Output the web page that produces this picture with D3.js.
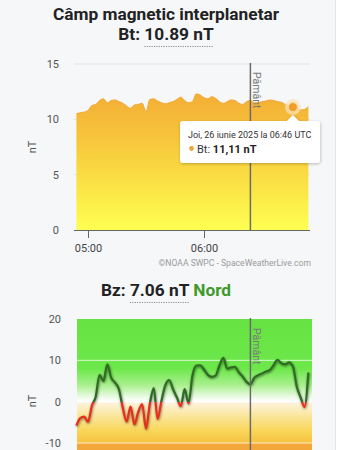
<!DOCTYPE html>
<html>
<head>
<meta charset="utf-8">
<script src="https://cdn.jsdelivr.net/npm/d3@7.9.0/dist/d3.min.js"></script>
<style>
  body { margin: 0; background: #fff; font-family: Roboto, "Noto Sans", sans-serif; }
  svg { display: block; }
</style>
</head>
<body>
<svg id="chart" width="351" height="450"></svg>
<script>
// minutes after 05:00 UTC, one sample every 2 minutes
const sampleMinutes = d3.range(-6, 115, 2);

const btValues = [
  10.5, 10.6, 10.65, 10.8, 11.25, 11.35, 11.7, 11.85, 11.5, 11.7,
  11.75, 11.6, 11.45, 11.2, 11.0, 11.3, 11.35, 11.45, 10.7, 11.8,
  11.85, 11.65, 11.5, 11.4, 11.5, 11.6, 11.8, 12.0, 11.7, 11.5,
  11.6, 12.3, 12.2, 11.95, 11.85, 12.05, 11.9, 11.6, 11.45, 11.6,
  11.75, 11.7, 11.45, 11.35, 11.6, 11.7, 11.5, 11.5, 11.6, 11.65,
  11.75, 11.7, 11.6, 11.55, 11.35, 11.2, 11.11, 11.0, 10.85, 10.9,
  11.15
];

const bzValues = [
  -5.8, -4.0, -3.6, -4.9, -1.0, 1.2, 6.5, 5.0, 9.0, 5.8,
  4.6, 3.0, -1.5, -4.8, -1.2, -5.5, -2.5, -0.6, -6.5, -0.5,
  3.3, -4.2, 0.2, 4.0, 5.2, 3.0, 1.0, -1.1, 3.0, -0.4,
  6.2, 8.7, 8.8, 7.8, 6.5, 6.0, 6.3, 8.8, 10.6, 8.0,
  8.3, 8.4, 7.1, 6.1, 4.8, 4.2, 5.8, 6.4, 6.8, 7.3,
  7.6, 8.8, 10.1, 9.3, 9.0, 9.5, 8.5, 3.6, 1.0, -1.3,
  7.06
];

const btTicks = [0, 5, 10, 15];
const bzTicks = [-10, 0, 10, 20];
const timeTicks = ['05:00', '06:00'];
const earthTime = '06:24';
const hoverTime = '06:46';
const hoverValue = 11.11;

const day = (hm) => {
  const [h, m] = hm.split(':').map(Number);
  return new Date(Date.UTC(2025, 5, 26, h, m));
};
const times = sampleMinutes.map(m => new Date(Date.UTC(2025, 5, 26, 5, m)));
const bt = times.map((t, i) => ({ t, v: btValues[i] }));
const bz = times.map((t, i) => ({ t, v: bzValues[i] }));

const svg = d3.select('#chart');
const defs = svg.append('defs');

// page card
svg.append('rect').attr('width', 335.5).attr('height', 450).attr('fill', '#f6f7f9');
svg.append('line').attr('x1', 335.5).attr('x2', 335.5).attr('y1', 0).attr('y2', 450)
  .attr('stroke', '#e4e4e4');

const x = d3.scaleUtc().domain([day('05:00'), day('06:00')]).range([88, 204]);
const fmt = d3.utcFormat('%H:%M');

function titleLine(parts, y, size, underline) {
  const t = svg.append('text').attr('x', 166).attr('y', y)
    .attr('text-anchor', 'middle').attr('font-size', size).attr('font-weight', 700).attr('fill', '#222');
  parts.forEach(p => t.append('tspan').text(p.s).attr('fill', p.c || '#222'));
  if (!underline) return;
  const node = t.node();
  const full = parts.map(p => p.s).join('');
  const a = full.indexOf(underline);
  const x0 = node.getStartPositionOfChar(a).x;
  const x1 = node.getEndPositionOfChar(a + underline.length - 1).x;
  svg.append('line').attr('x1', x0).attr('x2', x1).attr('y1', y + 6.5).attr('y2', y + 6.5)
    .attr('stroke', '#8a8a8a').attr('stroke-dasharray', '1.2,1.2');
}

function yLabels(y, ticks, right) {
  svg.append('g').selectAll('text').data(ticks).join('text')
    .attr('x', right).attr('y', d => y(d) + 4)
    .attr('text-anchor', 'end').attr('font-size', 11).attr('fill', '#555')
    .text(d => d);
}

function nTLabel(cy) {
  svg.append('text').attr('transform', `translate(36,${cy}) rotate(-90)`)
    .attr('text-anchor', 'middle').attr('font-size', 11).attr('fill', '#555').text('nT');
}

function earthLine(y0, y1, labelY) {
  const ex = x(day(earthTime));
  svg.append('line').attr('x1', ex).attr('x2', ex).attr('y1', y0).attr('y2', y1)
    .attr('stroke', '#6b6b6b').attr('stroke-width', 1.5);
  svg.append('text').attr('transform', `translate(${ex + 3},${labelY}) rotate(90)`)
    .attr('font-size', 10.5).attr('fill', '#7a7a7a').text('Pământ');
}

// ---------- Bt chart ----------
titleLine([{ s: 'Câmp magnetic interplanetar' }], 20, 17.3);
titleLine([{ s: 'Bt: 10.89 nT' }], 40, 17.3, '10.89 nT');

const y1 = d3.scaleLinear().domain([0, 15]).range([230, 64]);

svg.append('g').selectAll('line').data(btTicks.filter(d => d > 0)).join('line')
  .attr('x1', 74).attr('x2', 310).attr('y1', d => y1(d)).attr('y2', d => y1(d))
  .attr('stroke', '#e2e3e6');

const btGrad = defs.append('linearGradient').attr('id', 'btFill')
  .attr('gradientUnits', 'userSpaceOnUse').attr('x1', 0).attr('x2', 0)
  .attr('y1', y1(12.5)).attr('y2', y1(0));
[[0, '#f3ad35'], [0.35, '#f7c63c'], [0.7, '#fbe546'], [1, '#ffff52']]
  .forEach(([o, c]) => btGrad.append('stop').attr('offset', o).attr('stop-color', c));

svg.append('path').datum(bt)
  .attr('d', d3.area().x(d => x(d.t)).y0(y1(0)).y1(d => y1(d.v)).curve(d3.curveMonotoneX))
  .attr('fill', 'url(#btFill)');
svg.append('path').datum(bt)
  .attr('d', d3.line().x(d => x(d.t)).y(d => y1(d.v)).curve(d3.curveMonotoneX))
  .attr('fill', 'none').attr('stroke', '#f1a62e').attr('stroke-width', 1);

const ax1 = svg.append('g').attr('transform', `translate(0,${y1(0)})`)
  .call(d3.axisBottom(x).tickValues(timeTicks.map(day)).tickFormat(fmt).tickSize(8).tickPadding(6));
ax1.select('.domain').attr('d', 'M74,0.5H310').attr('stroke', '#666');
ax1.selectAll('.tick line').attr('stroke', '#666');
ax1.selectAll('.tick text').attr('font-size', 11).attr('fill', '#444').attr('font-family', 'Roboto');

yLabels(y1, btTicks, 59);
nTLabel(147);
earthLine(63, 230, 72);

svg.append('text').attr('x', 311).attr('y', 266).attr('text-anchor', 'end')
  .attr('font-size', 8.6).attr('fill', '#9a9a9a').text('©NOAA SWPC - SpaceWeatherLive.com');

// hover marker + tooltip
const hx = x(day(hoverTime)), hy = y1(hoverValue);
svg.append('circle').attr('cx', hx).attr('cy', hy).attr('r', 8)
  .attr('fill', '#fbe3b8').attr('fill-opacity', 0.7);
svg.append('circle').attr('cx', hx).attr('cy', hy).attr('r', 4.5)
  .attr('fill', '#f29d2a').attr('stroke', '#fbd9a0').attr('stroke-width', 1);

const shadow = defs.append('filter').attr('id', 'tipShadow')
  .attr('x', '-20%').attr('y', '-30%').attr('width', '140%').attr('height', '170%');
shadow.append('feDropShadow').attr('dx', 0.5).attr('dy', 1).attr('stdDeviation', 1.5)
  .attr('flood-color', '#000').attr('flood-opacity', 0.25);

const tip = svg.append('g').attr('filter', 'url(#tipShadow)');
tip.append('path')
  .attr('d', `M183,121H${hx - 6}L${hx},115L${hx + 6},121H317a3,3 0 0 1 3,3V160a3,3 0 0 1 -3,3H183a3,3 0 0 1 -3,-3V124a3,3 0 0 1 3,-3Z`)
  .attr('fill', '#fff');
svg.append('text').attr('x', 188).attr('y', 138).attr('font-size', 9).attr('fill', '#333')
  .text('Joi, 26 iunie 2025 la 06:46 UTC');
svg.append('circle').attr('cx', 191.5).attr('cy', 148.5).attr('r', 2.4).attr('fill', '#f2a33a');
const t2 = svg.append('text').attr('x', 197).attr('y', 152.5).attr('font-size', 11).attr('fill', '#333');
t2.append('tspan').text('Bt: ');
t2.append('tspan').attr('font-weight', 700).attr('fill', '#222').text('11,11 nT');

// ---------- Bz chart ----------
titleLine([{ s: 'Bz: 7.06 nT ' }, { s: 'Nord', c: '#3f9a2c' }], 296, 17.3, '7.06 nT');

const y2 = d3.scaleLinear().domain([-10, 20]).range([443, 319]);
const bgGrad = defs.append('linearGradient').attr('id', 'bzBg')
  .attr('gradientUnits', 'userSpaceOnUse').attr('x1', 0).attr('x2', 0)
  .attr('y1', y2(20)).attr('y2', y2(-20));
[[20, '#66e342'], [8, '#6de84b'], [4, '#a9f08e'], [1, '#eefbea'], [0, '#ffffff'],
 [-0.3, '#fdf3dc'], [-3, '#fbe8a4'], [-7, '#f9d65a'], [-9.9, '#f6c23f'], [-10, '#f3a83a'], [-20, '#f09a33']]
  .forEach(([v, c]) => bgGrad.append('stop')
    .attr('offset', (y2(v) - y2(20)) / (y2(-20) - y2(20))).attr('stop-color', c));

svg.append('rect').attr('x', 77).attr('y', y2(20)).attr('width', 235).attr('height', y2(-20) - y2(20))
  .attr('fill', 'url(#bzBg)');
svg.append('g').selectAll('line').data(bzTicks.filter(d => d < 20)).join('line')
  .attr('x1', 77).attr('x2', 312).attr('y1', d => y2(d)).attr('y2', d => y2(d))
  .attr('stroke', '#fff').attr('stroke-opacity', 0.75);

const lineGrad = defs.append('linearGradient').attr('id', 'bzLine')
  .attr('gradientUnits', 'userSpaceOnUse').attr('x1', 0).attr('x2', 0)
  .attr('y1', y2(20)).attr('y2', y2(-10));
const zeroOff = (y2(0) - y2(20)) / (y2(-10) - y2(20));
[[0, '#2f6e22'], [zeroOff, '#2f6e22'], [zeroOff, '#e2321f'], [1, '#e2321f']]
  .forEach(([o, c]) => lineGrad.append('stop').attr('offset', o).attr('stop-color', c));

const lineShadow = defs.append('filter').attr('id', 'lineShadow')
  .attr('x', '-10%').attr('y', '-20%').attr('width', '120%').attr('height', '140%');
lineShadow.append('feDropShadow').attr('dx', 0.5).attr('dy', 1).attr('stdDeviation', 1.3)
  .attr('flood-color', '#000').attr('flood-opacity', 0.5);

svg.append('path').datum(bz)
  .attr('d', d3.line().x(d => x(d.t)).y(d => y2(d.v)).curve(d3.curveMonotoneX))
  .attr('fill', 'none').attr('stroke', 'url(#bzLine)').attr('stroke-width', 2.3)
  .attr('stroke-linejoin', 'round').attr('filter', 'url(#lineShadow)');

yLabels(y2, bzTicks, 61);
nTLabel(401);
earthLine(318, 450, 328);
</script>
</body>
</html>
